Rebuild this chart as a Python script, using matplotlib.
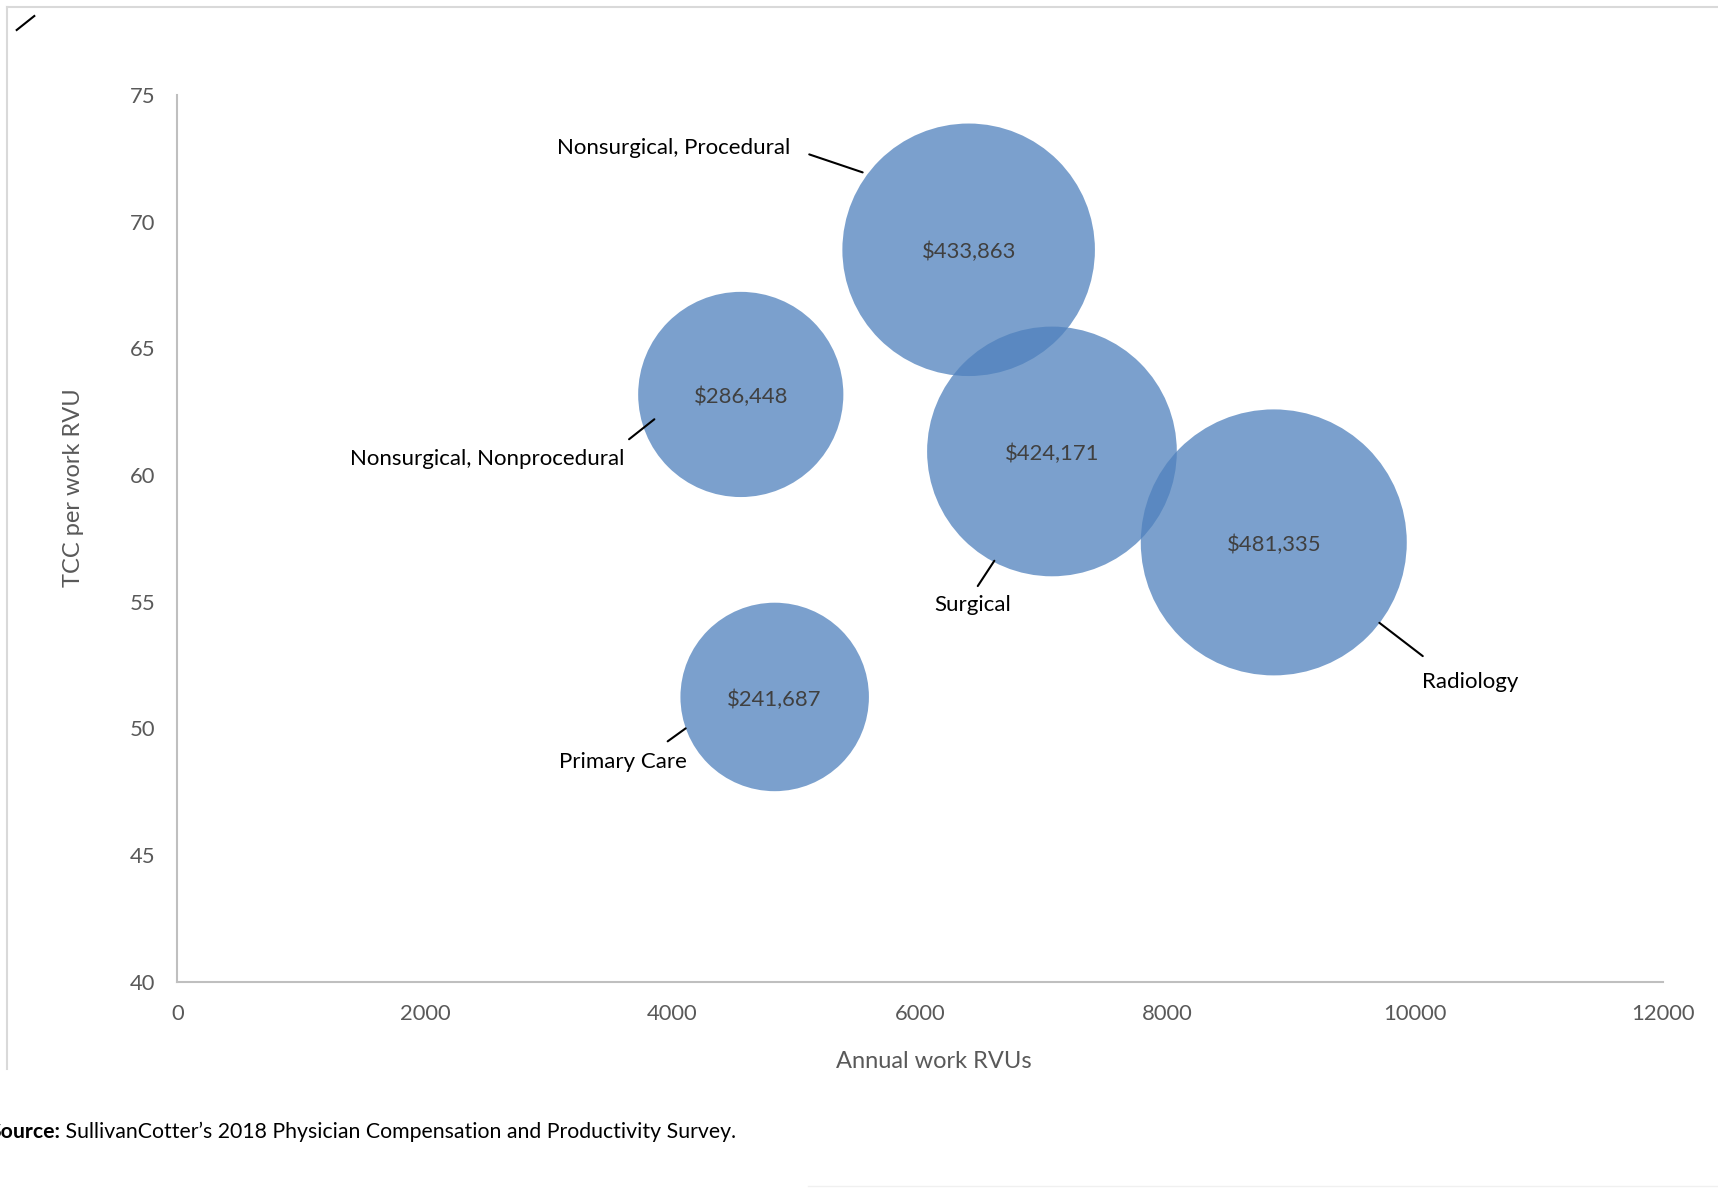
import matplotlib
matplotlib.use("Agg")
import matplotlib.pyplot as plt
import matplotlib.transforms as mtransforms
from matplotlib.lines import Line2D

plt.rcParams['font.family'] = ['Lato', 'DejaVu Sans']

# ---------------- data ----------------
categories = ["Primary Care", "Nonsurgical, Nonprocedural", "Nonsurgical, Procedural",
              "Surgical", "Radiology"]
annual_work_rvus = [4826, 4552, 6393, 7066, 8858]
tcc_per_work_rvu = [51.24, 63.18, 68.89, 60.93, 57.34]
total_comp = [241687, 286448, 433863, 424171, 481335]
value_labels = ["$241,687", "$286,448", "$433,863", "$424,171", "$481,335"]

x_ticks = [0, 2000, 4000, 6000, 8000, 10000, 12000]
y_ticks = [40, 45, 50, 55, 60, 65, 70, 75]
x_title = "Annual work RVUs"
y_title = "TCC per work RVU"
source_bold = "Source:"
source_text = " SullivanCotter\u2019s 2018 Physician Compensation and Productivity Survey."

# ---------------- style / layout ----------------
W, H = 1718, 1188
DPI = 100
AX_L, AX_R, AX_T, AX_B = 177.3, 1662.7, 95.0, 981.7   # image px (y down)
BUBBLE_COLOR = "#4F81BD"
BUBBLE_ALPHA = 0.75
MAX_DIAM_PX = 266.0
GRAY_AXIS = "#BFBFBF"
GRAY_TEXT = "#595959"

# label placement (image px offsets from bubble centre: right, down)
label_text_off = {
    "Primary Care": (-151.9, 71.4),
    "Nonsurgical, Nonprocedural": (-253.3, 70.5),
    "Nonsurgical, Procedural": (-295.0, -95.4),
    "Surgical": (-79.1, 159.3),
    "Radiology": (196.0, 146.0),
}
label_line_off = {
    "Primary Care": ((-107.0, 44.4), (-89.0, 31.4)),
    "Nonsurgical, Nonprocedural": ((-111.7, 44.8), (-86.4, 24.8)),
    "Nonsurgical, Procedural": ((-159.4, -95.4), (-106.0, -77.4)),
    "Surgical": ((-74.2, 134.6), (-57.6, 109.3)),
    "Radiology": ((105.6, 80.4), (149.0, 113.7)),
}

fig = plt.figure(figsize=(W / DPI, H / DPI), dpi=DPI)
fig.patch.set_facecolor("white")
ax = fig.add_axes([AX_L / W, (H - AX_B) / H, (AX_R - AX_L) / W, (AX_B - AX_T) / H])
ax.set_xlim(x_ticks[0], x_ticks[-1])
ax.set_ylim(y_ticks[0], y_ticks[-1])
ax.set_xticks(x_ticks)
ax.set_yticks(y_ticks)
ax.set_xticklabels([str(v) for v in x_ticks])
ax.set_yticklabels([str(v) for v in y_ticks])
ax.tick_params(axis="both", length=0, labelsize=15.8, labelcolor=GRAY_TEXT)
ax.tick_params(axis="y", pad=16)
ax.tick_params(axis="x", pad=16)
for s in ["top", "right"]:
    ax.spines[s].set_visible(False)
for s in ["left", "bottom"]:
    ax.spines[s].set_color(GRAY_AXIS)
    ax.spines[s].set_linewidth(1.5)
ax.patch.set_visible(False)

# bubbles: area proportional to value
max_v = max(total_comp)
pt_per_px = 72.0 / DPI
sizes = [((MAX_DIAM_PX * (v / max_v) ** 0.5) * pt_per_px) ** 2 for v in total_comp]
ax.scatter(annual_work_rvus, tcc_per_work_rvu, s=sizes, color=BUBBLE_COLOR,
           alpha=BUBBLE_ALPHA, linewidths=0, zorder=2, clip_on=False)

for x, y, lab in zip(annual_work_rvus, tcc_per_work_rvu, value_labels):
    ax.annotate(lab, xy=(x, y), xytext=(0, -2.5), textcoords="offset pixels",
                ha="center", va="center", fontsize=15.8, color="#404040", zorder=3)

for x, y, cat in zip(annual_work_rvus, tcc_per_work_rvu, categories):
    tdx, tdy = label_text_off[cat]
    ax.annotate(cat, xy=(x, y), xycoords="data", xytext=(tdx, -tdy),
                textcoords="offset pixels", ha="center", va="baseline",
                fontsize=16, color="black", zorder=4)
    (ax1, ay1), (ax2, ay2) = label_line_off[cat]
    tr = mtransforms.offset_copy(ax.transData, fig=fig, x=ax1, y=-ay1, units="dots")
    ax.annotate("", xy=(x, y), xycoords=tr, xytext=(ax2 - ax1, -(ay2 - ay1)),
                textcoords="offset pixels",
                arrowprops=dict(arrowstyle="-", color="black", lw=1.5,
                                shrinkA=0, shrinkB=0), zorder=4)

ax.set_xlabel(x_title, fontsize=17, color=GRAY_TEXT)
ax.set_ylabel(y_title, fontsize=17, color=GRAY_TEXT)
ax.xaxis.set_label_coords((933.5 - AX_L) / (AX_R - AX_L), -(1061.0 - AX_B) / (AX_B - AX_T))
ax.xaxis.label.set_va("center")
ax.yaxis.set_label_coords(-(AX_L - 73.4) / (AX_R - AX_L), (AX_B - 487.6) / (AX_B - AX_T))
ax.yaxis.label.set_va("center")

# chart frame (top & left edges visible) and stray stroke
fig.add_artist(Line2D([7 / W, 1.0], [(H - 7) / H, (H - 7) / H], color="#D9D9D9", lw=1.5,
                      transform=fig.transFigure))
fig.add_artist(Line2D([7 / W, 7 / W], [(H - 7) / H, (H - 1069) / H], color="#D9D9D9", lw=1.5,
                      transform=fig.transFigure))
fig.add_artist(Line2D([808 / W, 1.0], [(H - 1186) / H, (H - 1186) / H], color="#F0F0F0", lw=1,
                      transform=fig.transFigure))
fig.add_artist(Line2D([16.7 / W, 34.3 / W], [(H - 30) / H, (H - 16) / H], color="black", lw=1.5,
                      transform=fig.transFigure))

# source note
t1 = fig.text(-11 / W, (H - 1138) / H, source_bold, fontsize=15.3, fontweight="bold",
              ha="left", va="baseline", color="black")
fig.canvas.draw()
bb = t1.get_window_extent(renderer=fig.canvas.get_renderer())
fig.text(bb.x1 / W, (H - 1138) / H, source_text, fontsize=15.3, ha="left", va="baseline",
         color="black")

fig.savefig("out.png", dpi=DPI, facecolor="white")
